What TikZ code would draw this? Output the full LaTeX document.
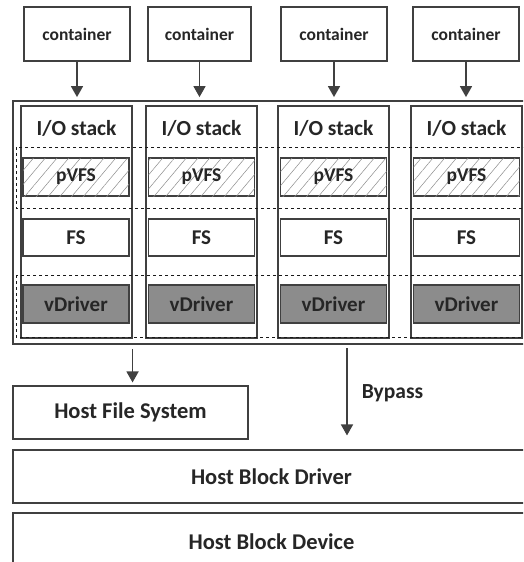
\documentclass[tikz,border=0pt]{standalone}
\usepackage{fontspec}
\setmainfont{Carlito}
\usetikzlibrary{
  arrows.meta,
  positioning,
  patterns.meta
}

\definecolor{inkgray}{HTML}{404040}
\definecolor{drvgray}{HTML}{8C8C8C}

\begin{document}
\begin{tikzpicture}[
  x=1pt, y=-1pt,
  box/.style={
    rectangle, draw=inkgray, line width=1.1pt, fill=white,
    inner sep=0pt, align=center, text=black!85
  },
  cont/.style={
    box, minimum height=54pt, font=\fontsize{17.5}{20}\selectfont\bfseries
  },
  stackcol/.style={
    rectangle, draw=inkgray, line width=1.1pt,
    minimum width=111pt, minimum height=232pt
  },
  iolabel/.style={text=black!85, font=\fontsize{21.5}{24}\selectfont\bfseries},
  layer/.style={
    box, minimum width=106pt, minimum height=38pt,
    font=\fontsize{21}{24}\selectfont\bfseries
  },
  hatched/.style={
    layer, font=\fontsize{19.5}{22}\selectfont\bfseries,
    postaction={pattern={Lines[angle=50, distance=9pt, line width=0.5pt]},
    pattern color=black!45}
  },
  dark/.style={layer, fill=drvgray},
  hostbox/.style={box, font=\fontsize{22.5}{26}\selectfont\bfseries},
  band/.style={draw=black!90, line width=0.8pt, dash pattern=on 3pt off 3pt},
  flow/.style={-{Triangle[width=12pt, length=11pt]}, inkgray, line width=1.6pt},
]

\clip (0,0) rectangle (523,562);

% Top row: containers
\node[cont, minimum width=106pt] (c1) at (77,34) {container};
\node[cont, minimum width=103pt] (c2) at (199.5,34) {container};
\node[cont, minimum width=106pt] (c3) at (334,34) {container};
\node[cont, minimum width=106pt] (c4) at (466,34) {container};

% Outer host box
\node[rectangle, draw=inkgray, line width=1.8pt, minimum width=520pt,
  minimum height=243pt] (host) at (273,222.5) {};

% I/O stack columns
\node[stackcol] (stk1) at (76.5,222) {};
\node[stackcol] (stk2) at (201.5,222) {};
\node[stackcol] (stk3) at (333.5,222) {};
\node[stackcol] (stk4) at (466.5,222) {};

\node[iolabel] (io1) at (76.5,128) {I/O stack};
\node[iolabel] (io2) at (201.5,128) {I/O stack};
\node[iolabel] (io3) at (333.5,128) {I/O stack};
\node[iolabel] (io4) at (466.5,128) {I/O stack};

% Dashed bands across the columns
\draw[band] (16,147) rectangle (540,208);
\draw[band] (16,275) rectangle (540,337);

% pVFS row
\node[hatched] (pvfs1) at (76,177) {pVFS};
\node[hatched] (pvfs2) at (201.5,177) {pVFS};
\node[hatched] (pvfs3) at (333.5,177) {pVFS};
\node[hatched] (pvfs4) at (466.5,177) {pVFS};

% FS row
\node[layer, minimum height=37pt] (fs1) at (76,237.5) {FS};
\node[layer, minimum height=37pt] (fs2) at (201.5,237.5) {FS};
\node[layer, minimum height=37pt] (fs3) at (333.5,237.5) {FS};
\node[layer, minimum height=37pt] (fs4) at (466.5,237.5) {FS};

% vDriver row
\node[dark] (vd1) at (76,304) {vDriver};
\node[dark] (vd2) at (201.5,304) {vDriver};
\node[dark] (vd3) at (333.5,304) {vDriver};
\node[dark] (vd4) at (466.5,304) {vDriver};

% Bottom: host layers
\node[hostbox, minimum width=235pt, minimum height=53pt] (hfs) at (130.5,412.5)
  {Host File System};
\node[hostbox, minimum width=517pt, minimum height=53pt] (hbd) at (271.5,476.5)
  {Host Block Driver};
\node[hostbox, minimum width=517pt, minimum height=58pt] (hbdev) at (271.5,542)
  {Host Block Device};

% Containers into their stacks
\draw[flow, shorten >=3pt] (c1) -- (c1 |- host.north);
\draw[flow, shorten >=3pt] (c2) -- (c2 |- host.north);
\draw[flow, shorten >=3pt] (c3) -- (c3 |- host.north);
\draw[flow, shorten >=3pt] (c4) -- (c4 |- host.north);

% Down to the host file system
\draw[flow, shorten >=3pt] ([yshift=-4pt]host.south -| stk1.east) -- (hfs.north -| stk1.east);

% Bypass straight to the block driver
\coordinate (bp) at (347,348);
\draw[flow] (bp) -- ([yshift=14pt]hbd.north -| bp);
\node[iolabel] (bylabel) at (392.5,393) {Bypass};

\end{tikzpicture}
\end{document}
